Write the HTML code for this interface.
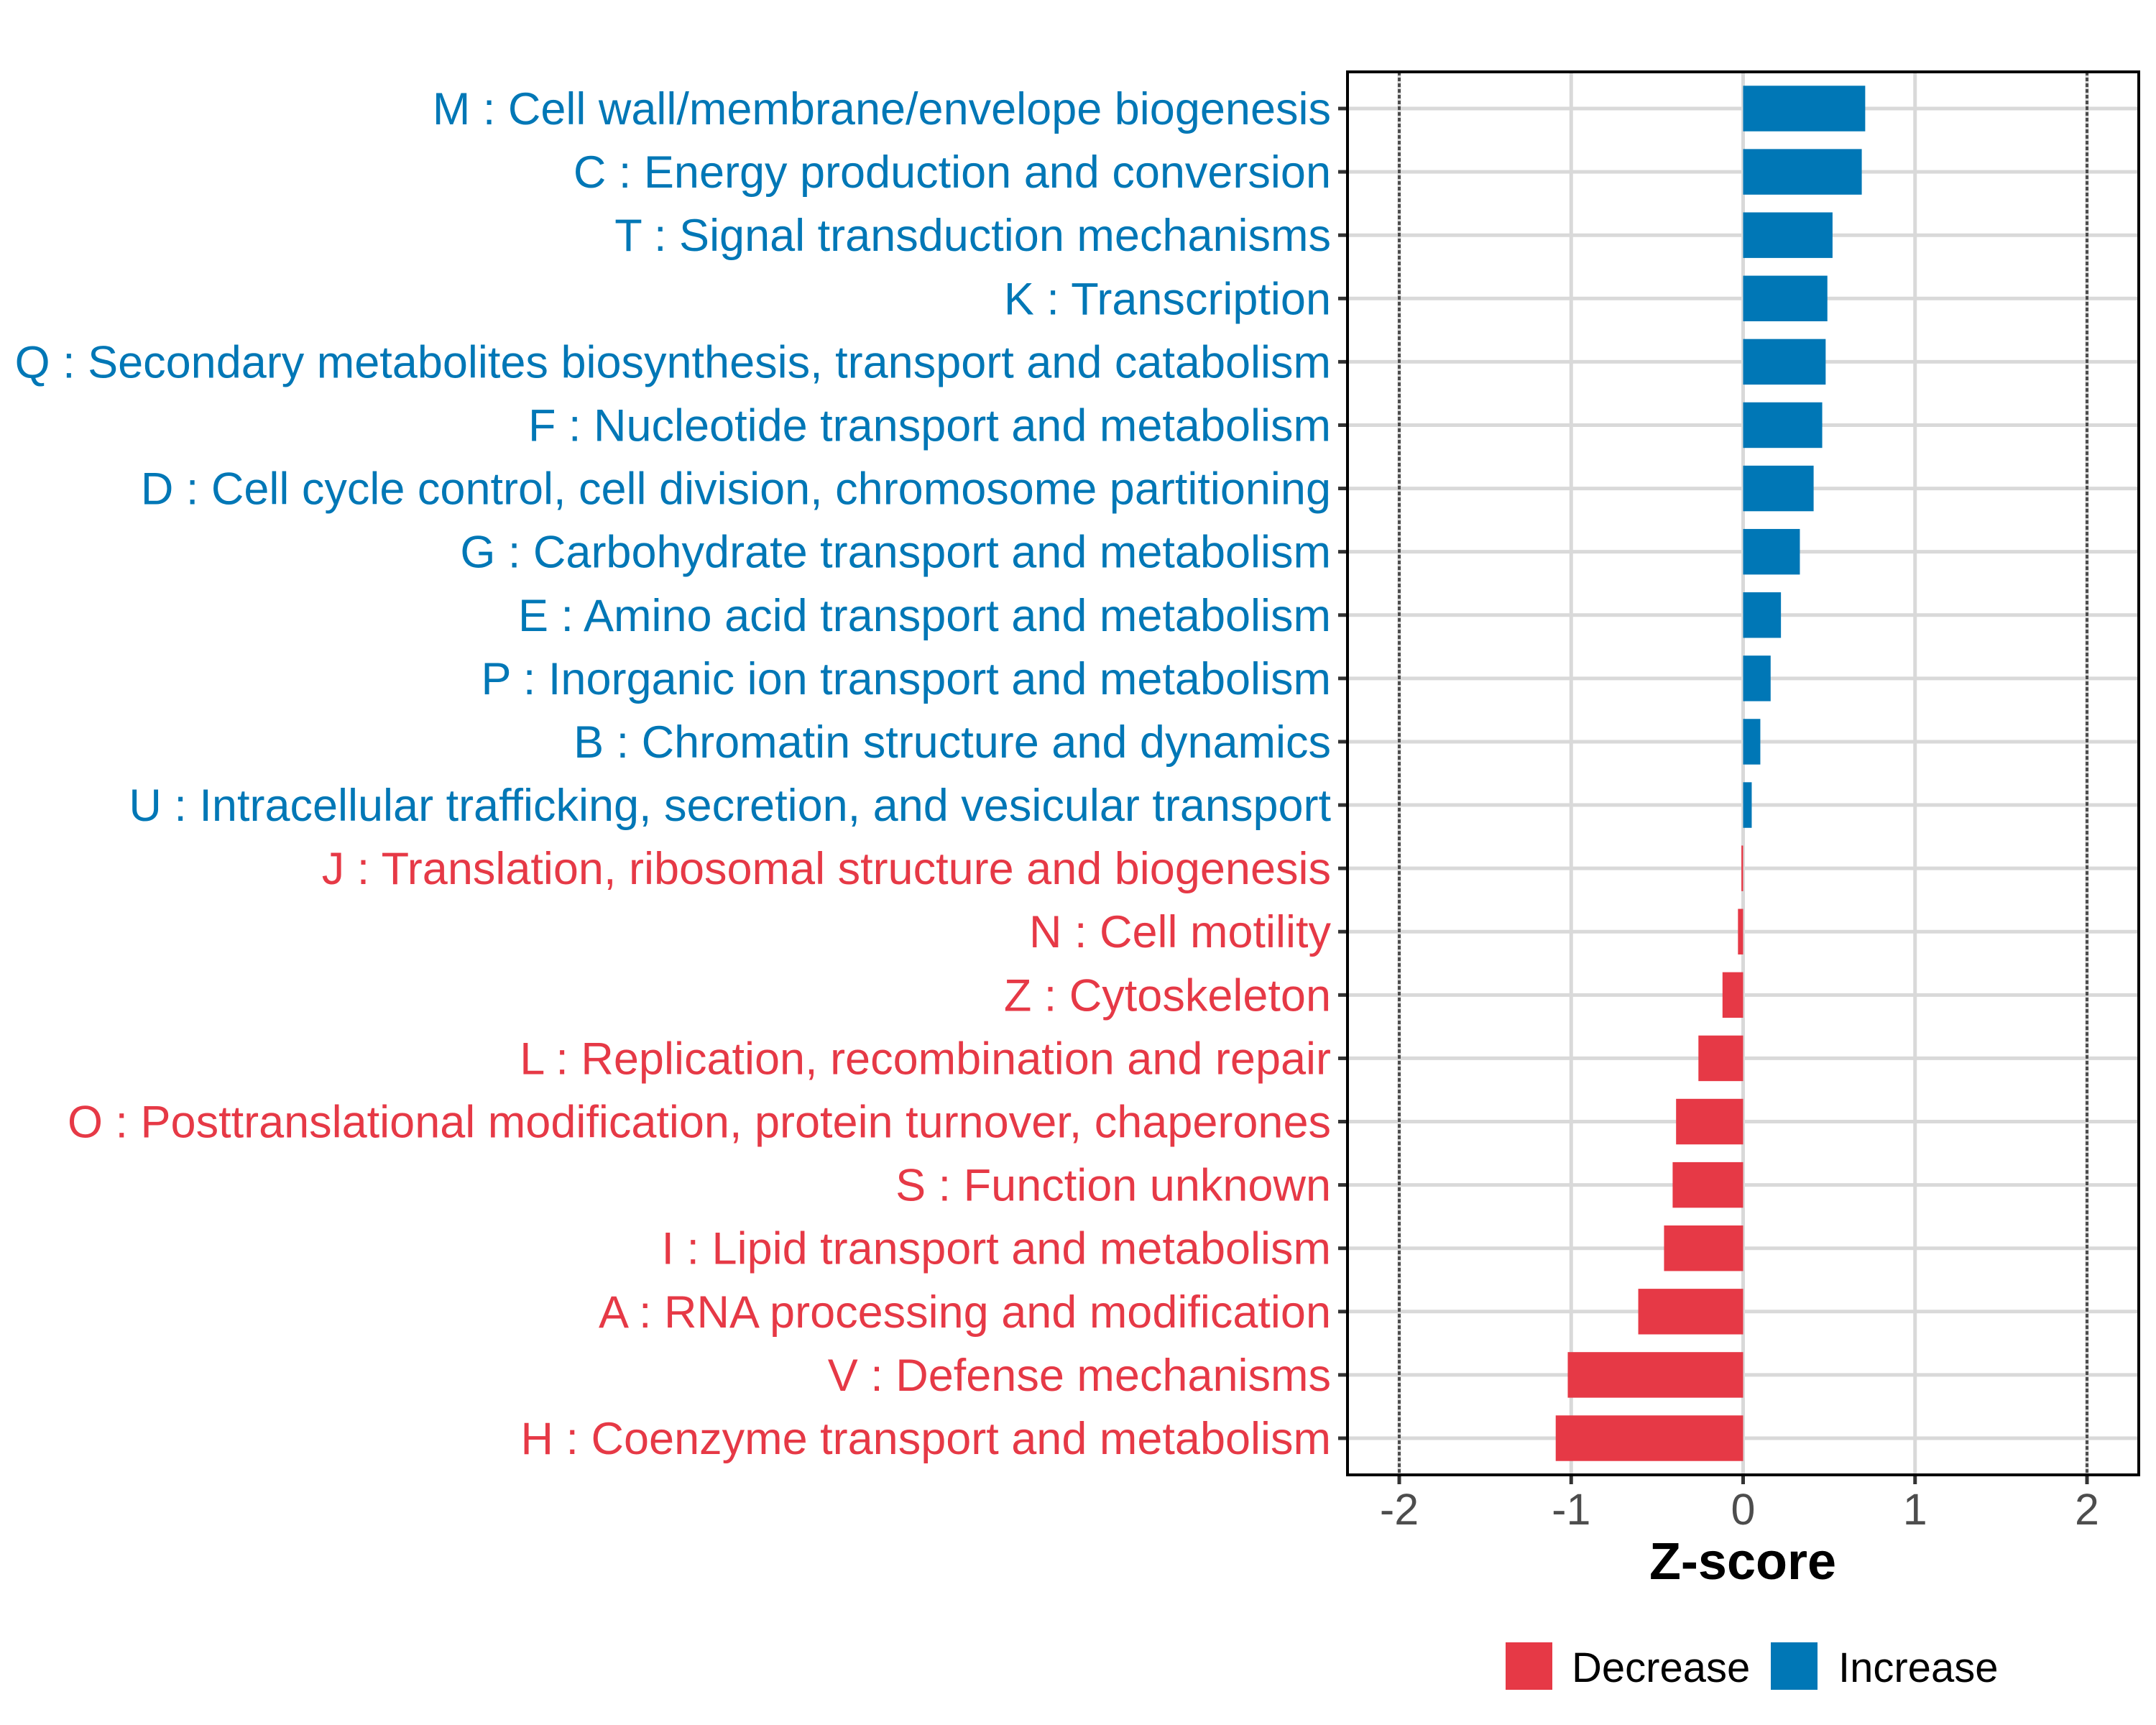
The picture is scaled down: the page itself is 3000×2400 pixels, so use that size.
<!DOCTYPE html>
<html><head><meta charset="utf-8"><style>
html,body{margin:0;padding:0;background:#fff;}
svg{display:block;font-family:"Liberation Sans",sans-serif;}
</style></head><body>
<svg id="chart" width="3000" height="2400" viewBox="0 0 3000 2400">
<g id="grid"></g>
<g id="bars"></g>
<g id="ylabels"></g>
<g id="xaxis"></g>
<rect x="1875" y="100" width="1101" height="1952" fill="none" stroke="#000" stroke-width="4"/>
<text x="2425" y="2197" text-anchor="middle" font-size="72" font-weight="bold" fill="#000">Z-score</text>
<g>
<rect x="2095" y="2285" width="65" height="66" fill="#E63946"/>
<text x="2187" y="2340" font-size="58" fill="#000">Decrease</text>
<rect x="2464" y="2285" width="65" height="66" fill="#0077B6"/>
<text x="2558" y="2340" font-size="58" fill="#000">Increase</text>
</g>
</svg>
<script>
const categories = ["M : Cell wall/membrane/envelope biogenesis","C : Energy production and conversion","T : Signal transduction mechanisms","K : Transcription","Q : Secondary metabolites biosynthesis, transport and catabolism","F : Nucleotide transport and metabolism","D : Cell cycle control, cell division, chromosome partitioning","G : Carbohydrate transport and metabolism","E : Amino acid transport and metabolism","P : Inorganic ion transport and metabolism","B : Chromatin structure and dynamics","U : Intracellular trafficking, secretion, and vesicular transport","J : Translation, ribosomal structure and biogenesis","N : Cell motility","Z : Cytoskeleton","L : Replication, recombination and repair","O : Posttranslational modification, protein turnover, chaperones","S : Function unknown","I : Lipid transport and metabolism","A : RNA processing and modification","V : Defense mechanisms","H : Coenzyme transport and metabolism"];
const zscores = [0.71,0.69,0.52,0.49,0.48,0.46,0.41,0.33,0.22,0.16,0.10,0.05,-0.01,-0.03,-0.12,-0.26,-0.39,-0.41,-0.46,-0.61,-1.02,-1.09];
const xTicks = [-2,-1,0,1,2];
const xTickLabels = ["-2","-1","0","1","2"];
const NS="http://www.w3.org/2000/svg";
const X0=1947, X1=2904, TMIN=-2, TMAX=2;
function xs(v){return X0+(v-TMIN)*(X1-X0)/(TMAX-TMIN);}
const YFIRST=151, YLAST=2001;
function ys(i){return YFIRST+i*(YLAST-YFIRST)/(categories.length-1);}
const step=(YLAST-YFIRST)/(categories.length-1);
const bh=step*0.72;
function mk(tag,attrs,parent){const e=document.createElementNS(NS,tag);for(const k in attrs)e.setAttribute(k,attrs[k]);parent.appendChild(e);return e;}
const grid=document.getElementById('grid'),bars=document.getElementById('bars'),yl=document.getElementById('ylabels'),xa=document.getElementById('xaxis');
categories.forEach((c,i)=>{
  const y=ys(i);
  const g=mk('line',{x1:1875,x2:2976,y1:y,y2:y,stroke:'#D9D9D9','stroke-width':5},grid);
  
  
});
xTicks.forEach((t,i)=>{
  const x=xs(t);
  const g=mk('line',{x1:x,x2:x,y1:100,y2:2052,stroke:'#D9D9D9','stroke-width':5},grid);
  
  
  if(Math.abs(t)===2){
    const d=mk('line',{x1:x,x2:x,y1:100,y2:2052,stroke:'#4D4D4D','stroke-width':4,'stroke-dasharray':'5 3'},grid);
    
    
  }
  const tk=mk('line',{x1:x,x2:x,y1:2052,y2:2065,stroke:'#333','stroke-width':5},xa);
  
  
  const tl=mk('text',{x:x,y:2121,'text-anchor':'middle','font-size':61,fill:'#4D4D4D'},xa);
  tl.textContent=xTickLabels[i];
  
  
});
categories.forEach((c,i)=>{
  const y=ys(i), v=zscores[i];
  const col=v>=0?'#0077B6':'#E63946';
  const x0=xs(0), x1=xs(v);
  const r=mk('rect',{x:Math.min(x0,x1),y:y-bh/2,width:Math.max(Math.abs(x1-x0),2),height:bh,fill:col},bars);
  
  
  const tk=mk('line',{x1:1862,x2:1875,y1:y,y2:y,stroke:'#333','stroke-width':5},yl);
  
  
  const t=mk('text',{x:1852,y:y+22,'text-anchor':'end','font-size':63,fill:col},yl);
  t.textContent=c;
  
  
});
</script>
</body></html>
